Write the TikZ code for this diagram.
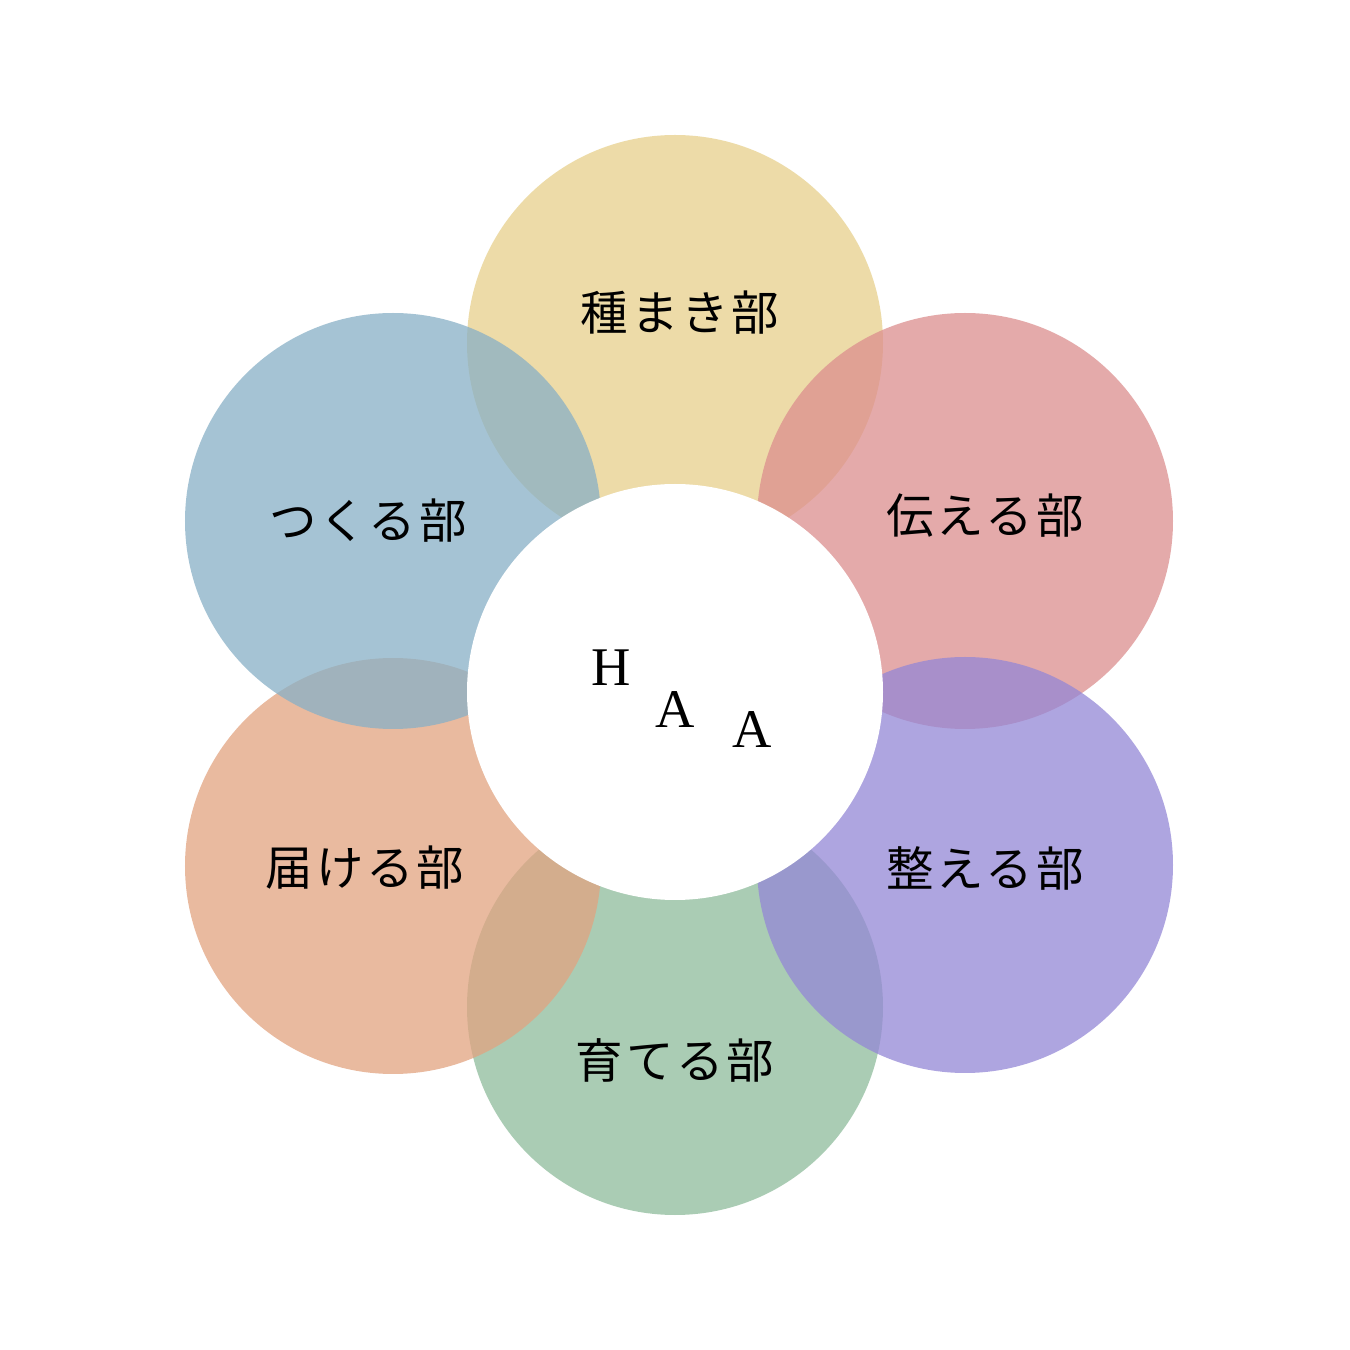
\documentclass[tikz,border=0pt]{standalone}
\usepackage{fontspec}
\newfontfamily\jpfont[LetterSpace=6]{Noto Sans CJK JP}
\newfontfamily\latfont{Liberation Serif}
\definecolor{seedcol}{RGB}{231,208,139}
\definecolor{makecol}{RGB}{136,176,198}
\definecolor{tellcol}{RGB}{220,142,142}
\definecolor{sendcol}{RGB}{226,163,128}
\definecolor{tidycol}{RGB}{148,135,214}
\definecolor{growcol}{RGB}{142,188,156}
\begin{document}
\begin{tikzpicture}[
    petal/.style={circle, minimum size=4.16cm, inner sep=0pt, fill opacity=0.75},
    club/.style={font=\jpfont\fontsize{13.5pt}{16pt}\selectfont},
    letter/.style={font=\latfont\fontsize{15.5pt}{18pt}\selectfont}
  ]
  \useasboundingbox (0,0) rectangle (13.5,13.5);
  \fill[white] (0,0) rectangle (13.5,13.5);

  % petals, in stacking order
  \node[petal, fill=growcol] (grow) at (6.75,3.43) {};
  \node[petal, fill=seedcol] (seed) at (6.75,10.07) {};
  \node[petal, fill=tellcol] (tell) at (9.65,8.29) {};
  \node[petal, fill=tidycol] (tidy) at (9.65,4.85) {};
  \node[petal, fill=sendcol] (send) at (3.93,4.84) {};
  \node[petal, fill=makecol] (make) at (3.93,8.29) {};

  % heart
  \node[circle, minimum size=4.16cm, inner sep=0pt, fill=white] (haa) at (6.75,6.58) {};

  \node[club] at (6.80,10.37) {種まき部};
  \node[club] at (3.68,8.29) {つくる部};
  \node[club] at (9.85,8.34) {伝える部};
  \node[club] at (3.65,4.82) {届ける部};
  \node[club] at (9.85,4.82) {整える部};
  \node[club] at (6.75,2.90) {育てる部};

  \node[letter] at (6.11,6.82) {H};
  \node[letter] at (6.75,6.40) {A};
  \node[letter] at (7.52,6.20) {A};
\end{tikzpicture}
\end{document}
